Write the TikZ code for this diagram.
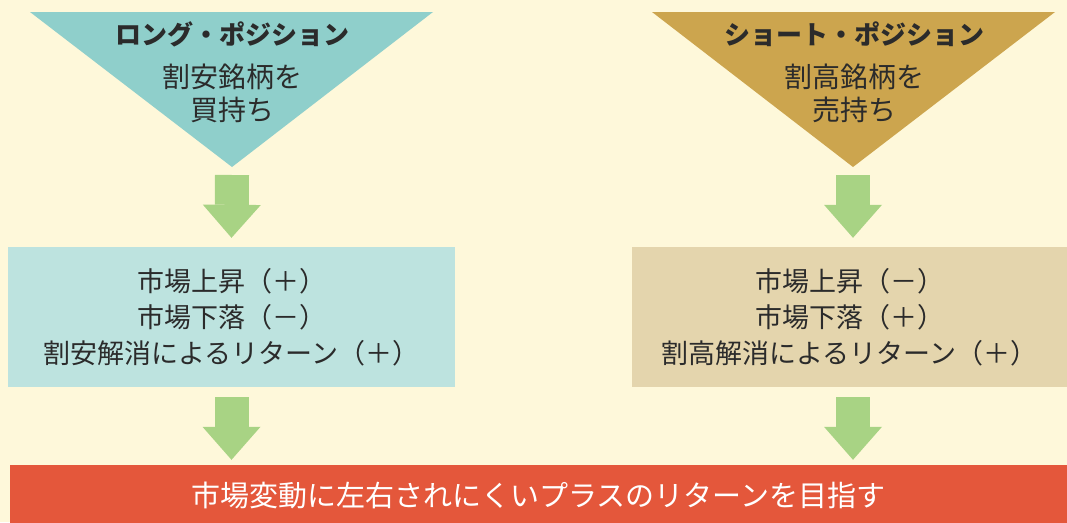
\documentclass[tikz,border=0pt]{standalone}
\usepackage{fontspec}
\newfontfamily\jpfont{Noto Sans CJK JP}
\usetikzlibrary{arrows.meta}
\definecolor{bgcream}{HTML}{FEF8DA}
\definecolor{tealtri}{HTML}{8FCFCB}
\definecolor{tealbox}{HTML}{BDE3DF}
\definecolor{goldtri}{HTML}{CCA54E}
\definecolor{tanbox}{HTML}{E4D5AD}
\definecolor{flowgreen}{HTML}{A8D384}
\definecolor{barred}{HTML}{E4573B}
\definecolor{inkgray}{HTML}{2B2B2B}

\begin{document}
\begin{tikzpicture}[x=1pt,y=-1pt,
  ttl/.style={font=\jpfont\bfseries\fontsize{26}{30}\selectfont, text=inkgray, inner sep=0pt},
  sub/.style={font=\jpfont\fontsize{28}{33}\selectfont, text=inkgray, align=center, inner sep=0pt},
  result/.style={font=\jpfont\fontsize{27}{36}\selectfont, text=inkgray, align=center,
    inner sep=0pt, minimum height=140pt},
  flow/.style={line width=34pt, draw=flowgreen, -{Triangle[length=33pt,width=58pt,line width=0pt]}}]
\useasboundingbox (0,0) rectangle (1067,522);
\clip (0,0) rectangle (1067,522);
\fill[bgcream] (0,0) rectangle (1067,522);

% long side
\fill[tealtri] (30,12) -- (433,12) -- (232,167) coordinate (ltip) -- cycle;
\node[ttl] (ltitle) at (232,34) {ロング・ポジション};
\node[sub] (lsub) at (232,93) {割安銘柄を\\買持ち};
\node[result, fill=tealbox, minimum width=447pt] (lbox) at (231.5,317)
  {市場上昇（＋）\\市場下落（－）\\割安解消によるリターン（＋）};

% short side
\fill[goldtri] (652,12) -- (1055,12) -- (853,167) coordinate (rtip) -- cycle;
\node[ttl] (rtitle) at (854,34) {ショート・ポジション};
\node[sub] (rsub) at (854,93) {割高銘柄を\\売持ち};
\node[result, fill=tanbox, minimum width=435pt] (rbox) at (849.5,317)
  {市場上昇（－）\\市場下落（＋）\\割高解消によるリターン（＋）};

% goal
\node[fill=barred, minimum width=1057pt, minimum height=60pt, inner sep=0pt, text=white,
  font=\jpfont\fontsize{29}{34}\selectfont] (goal) at (538.5,495)
  {市場変動に左右されにくいプラスのリターンを目指す};

\draw[flow] ([yshift=-8pt]ltip) -- ([yshift=9pt]lbox.north);
\draw[flow] ([yshift=-8pt]rtip) -- ([yshift=9pt]rtip |- rbox.north);
\draw[flow] ([yshift=-10pt]lbox.south) -- ([yshift=5pt]lbox.south |- goal.north);
\draw[flow] ([yshift=-10pt]rtip |- rbox.south) -- ([yshift=5pt]rtip |- goal.north);
\end{tikzpicture}
\end{document}
